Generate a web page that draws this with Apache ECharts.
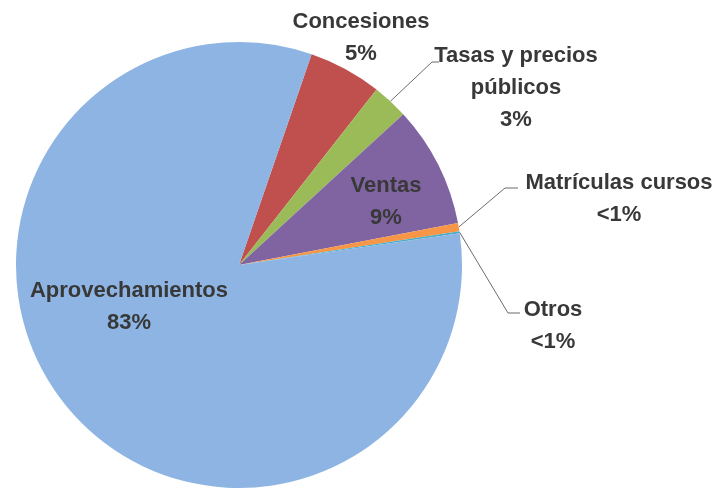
<!DOCTYPE html>
<html>
<head>
<meta charset="utf-8">
<script src="https://cdn.jsdelivr.net/npm/echarts@6/dist/echarts.min.js"></script>
<style>
  html, body { margin: 0; padding: 0; background: #fff; }
  #main { width: 721px; height: 491px; }
</style>
</head>
<body>
<div id="main"></div>
<script>
// categories and shares (%)
var categories = ['Concesiones', 'Tasas y precios\npúblicos', 'Ventas', 'Matrículas cursos', 'Otros', 'Aprovechamientos'];
var values = [5.3, 2.6, 8.8, 0.6, 0.15, 82.55];
var shownPct = ['5%', '3%', '9%', '<1%', '<1%', '83%'];
var colors = ['#C0504D', '#9BBB59', '#8064A2', '#F79646', '#4BACC6', '#8DB4E2'];

// where each label sits (center) and its leader line elbow/end
var labelPos = [
  { x: 361, y: 38, line: null },
  { x: 516, y: 88, line: [[432, 62], [439, 62]] },
  { x: 386, y: 202, inside: true },
  { x: 619, y: 199, line: [[505, 188], [518, 188]] },
  { x: 553, y: 326, line: [[508, 313], [520, 313]] },
  { x: 129, y: 307, inside: true }
];

var chart = echarts.init(document.getElementById('main'));

var data = categories.map(function (name, i) {
  var p = labelPos[i];
  return {
    name: name,
    value: values[i],
    itemStyle: { color: colors[i] },
    label: { position: p.inside ? 'inside' : 'outside' },
    labelLine: { show: !!p.line }
  };
});

chart.setOption({
  animation: false,
  series: [{
    type: 'pie',
    center: [239, 265],
    radius: 223,
    startAngle: 71,
    clockwise: true,
    avoidLabelOverlap: false,
    data: data,
    itemStyle: { borderWidth: 0 },
    label: {
      formatter: function (p) { return p.name + '\n' + shownPct[p.dataIndex]; },
      fontFamily: 'Liberation Sans, Arial, sans-serif',
      fontWeight: 'bold',
      fontSize: 22,
      lineHeight: 32,
      color: '#383838',
      align: 'center'
    },
    labelLine: {
      lineStyle: { color: '#6b6b6b', width: 1 }
    },
    labelLayout: function (params) {
      var p = labelPos[params.dataIndex];
      var out = { x: p.x, y: p.y, align: 'center', verticalAlign: 'middle' };
      if (p.line && params.labelLinePoints) {
        out.labelLinePoints = [params.labelLinePoints[0], p.line[0], p.line[1]];
      }
      return out;
    }
  }]
});
</script>
</body>
</html>
